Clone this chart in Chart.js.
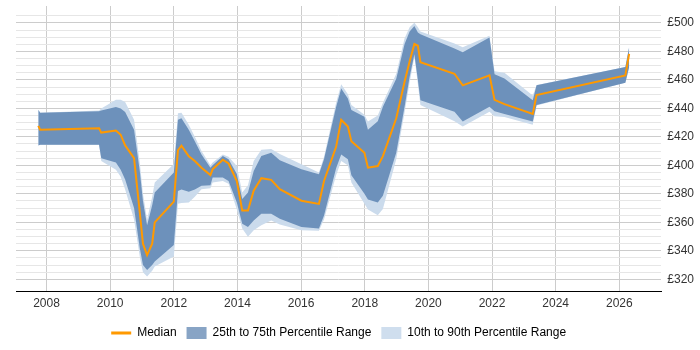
<!DOCTYPE html>
<html>
<head>
<meta charset="utf-8">
<script src="https://cdn.jsdelivr.net/npm/chart.js@4"></script>
<style>
  html, body { margin: 0; padding: 0; background: #fff; }
  #wrap { width: 700px; height: 350px; }
</style>
</head>
<body>
<div id="wrap"><canvas id="rateChart" width="700" height="350"></canvas></div>
<script>
// Datos (ano decimal, libras)
const years = [2007.74, 2007.80, 2009.65, 2009.72, 2010.18, 2010.33, 2010.47, 2010.75, 2010.93, 2011.03,
    2011.16, 2011.32, 2011.40, 2012.00, 2012.13, 2012.24, 2012.47, 2012.66, 2012.87, 2013.15,
    2013.22, 2013.54, 2013.72, 2013.98, 2014.15, 2014.33, 2014.51, 2014.75, 2015.06, 2015.33,
    2016.01, 2016.56, 2016.72, 2017.10, 2017.26, 2017.47, 2017.58, 2017.99, 2018.10, 2018.41,
    2018.57, 2018.99, 2019.25, 2019.41, 2019.56, 2019.67, 2019.75, 2020.82, 2021.08, 2021.92,
    2022.08, 2022.39, 2023.28, 2023.40, 2026.19, 2026.31];

const median = [427.7, 425, 426, 423, 424.5, 421.5, 414, 405, 367, 345,
    337, 345, 360, 374.5, 410.6, 413.8, 406.4, 403, 398.3, 393.2,
    397.2, 404, 401.3, 389, 368.3, 368.3, 382.2, 391, 389.8, 383.3,
    375.2, 372.9, 389, 413, 432, 427.3, 416.9, 408.8, 398.4, 399.5,
    406.5, 433.1, 458.5, 473, 485.2, 484, 472.4, 464.3, 456.2, 463.2,
    446, 443, 436.1, 449.3, 463.2, 478.3];

const p25 = [414, 414.5, 414.5, 405, 402, 397, 390, 370, 342, 330,
    326.6, 330, 332.4, 344, 382, 383, 381.5, 383, 385.6, 386,
    391.4, 391.4, 389, 374, 359, 356.7, 361.3, 366, 366, 362.5,
    356.7, 355.6, 364.8, 398, 407.6, 404.2, 393, 380, 376, 374,
    378.7, 408.8, 441, 462, 478, 460, 445.8, 437.7, 430.8, 441.2,
    438, 436, 430.8, 442.4, 458, 469];

const p75 = [439, 437, 438, 438.5, 441, 440, 437.5, 425, 396, 375,
    358, 372, 381, 395, 432, 433, 425, 417, 407.6, 398.4,
    400, 406.5, 404.2, 394, 376.4, 381, 396, 406.5, 408.8, 403.5,
    397.2, 393.8, 404.2, 441, 454, 447, 438.9, 434.2, 425, 431,
    441.2, 460.9, 485, 494, 497.9, 493.3, 492.1, 482, 479.4, 489.8,
    464, 461, 445.8, 456.2, 469, 482.9];

const p10 = [414, 414.5, 414.5, 403, 397, 392, 383, 362, 336, 325,
    322, 326, 329, 336, 373, 373.5, 374, 378, 383.3, 384,
    388, 389, 387, 369, 355.6, 349.8, 354.5, 358, 361.3, 358.5,
    354.4, 354, 362, 393, 403, 400, 388, 373, 369, 365,
    369.4, 404.2, 437, 458, 476, 457, 442.4, 431, 427.3, 437.7,
    434.5, 434, 428.5, 442, 458, 468.5];

const p90 = [439, 437, 438.5, 440, 446, 446, 444.5, 432, 402, 380,
    362, 378, 388, 401, 436.6, 437, 428.5, 420, 410, 400,
    402, 407.6, 406, 399.5, 381, 386, 403, 411, 411.5, 408,
    400.7, 395, 406, 444, 457, 450, 442.4, 435.5, 430.8, 435,
    444, 464.3, 489, 497, 500.2, 497, 494, 485.5, 483, 491,
    466, 465, 449, 456.5, 469, 483.5];

const xTicks = [2008, 2010, 2012, 2014, 2016, 2018, 2020, 2022, 2024, 2026];

const colors = {
    median: '#ff9900',
    band50: '#6d91bb',
    band80: '#cbdbec',
    legend50: '#88a4c5',
    legend80: '#cfdeee',
    gridMajor: '#cccccc',
    gridMinor: '#e6e6e6',
    text: '#333333'
};

const toPoints = arr => arr.map((v, i) => ({ x: years[i], y: v }));

const bandStyle = {
    pointRadius: 0,
    borderWidth: 0,
    tension: 0
};

const data = {
    datasets: [
        {
            label: 'Median',
            data: toPoints(median),
            borderColor: colors.median,
            borderWidth: 2,
            pointRadius: 0,
            tension: 0,
            fill: false
        },
        Object.assign({
            label: '25th to 75th Percentile Range',
            data: toPoints(p75),
            backgroundColor: colors.band50,
            fill: '+1'
        }, bandStyle),
        Object.assign({
            label: 'p25',
            data: toPoints(p25),
            fill: false
        }, bandStyle),
        Object.assign({
            label: '10th to 90th Percentile Range',
            data: toPoints(p90),
            backgroundColor: colors.band80,
            fill: '+1'
        }, bandStyle),
        Object.assign({
            label: 'p10',
            data: toPoints(p10),
            fill: false
        }, bandStyle)
    ]
};

// lineas de la cuadricula: cada 20 mas oscuras, cada 5 claras
function yGridColor(ctx) {
    const v = Math.round(ctx.tick.value * 100) / 100;
    if (v % 20 === 0) return colors.gridMajor;
    if (v % 5 === 0) return colors.gridMinor;
    return 'rgba(0,0,0,0)';
}

const config = {
    type: 'line',
    data: data,
    options: {
        responsive: false,
        animation: false,
        layout: {
            padding: { left: 16, right: 0, top: 5, bottom: 1 }
        },
        plugins: {
            tooltip: { enabled: false },
            legend: {
                position: 'bottom',
                fullSize: false,
                labels: {
                    usePointStyle: true,
                    pointStyleWidth: 20,
                    padding: 10,
                    color: colors.text,
                    font: { size: 12, family: 'Liberation Sans' },
                    generateLabels: function() {
                        return [
                            { text: 'Median', pointStyle: 'line', strokeStyle: colors.median, fillStyle: colors.median, lineWidth: 3, datasetIndex: 0 },
                            { text: '25th to 75th Percentile Range', pointStyle: 'rect', fillStyle: colors.legend50, strokeStyle: colors.legend50, lineWidth: 0, datasetIndex: 1 },
                            { text: '10th to 90th Percentile Range', pointStyle: 'rect', fillStyle: colors.legend80, strokeStyle: colors.legend80, lineWidth: 0, datasetIndex: 3 }
                        ];
                    }
                }
            }
        },
        scales: {
            x: {
                type: 'linear',
                min: 2007.04,
                max: 2027.32,
                afterBuildTicks: function(axis) {
                    axis.ticks = xTicks.map(v => ({ value: v }));
                },
                afterFit: function(axis) {
                    axis.height += 1.5;
                },
                grid: {
                    color: colors.gridMajor,
                    drawTicks: false
                },
                border: { color: '#000000', width: 1 },
                ticks: {
                    padding: 5,
                    color: colors.text,
                    font: { size: 12, family: 'Liberation Sans' },
                    maxRotation: 0,
                    autoSkip: false,
                    callback: v => String(v)
                }
            },
            y: {
                position: 'right',
                min: 311.7,
                max: 511.9,
                grid: {
                    drawTicks: false,
                    color: yGridColor
                },
                border: { display: false },
                ticks: {
                    stepSize: 5,
                    autoSkip: false,
                    padding: 6,
                    color: colors.text,
                    font: { size: 12, family: 'Liberation Sans' },
                    // etiqueta vacia (sin altura) para las lineas menores
                    callback: v => (v % 20 === 0 ? '£' + v : [])
                }
            }
        }
    }
};

new Chart(document.getElementById('rateChart'), config);
</script>
</body>
</html>
